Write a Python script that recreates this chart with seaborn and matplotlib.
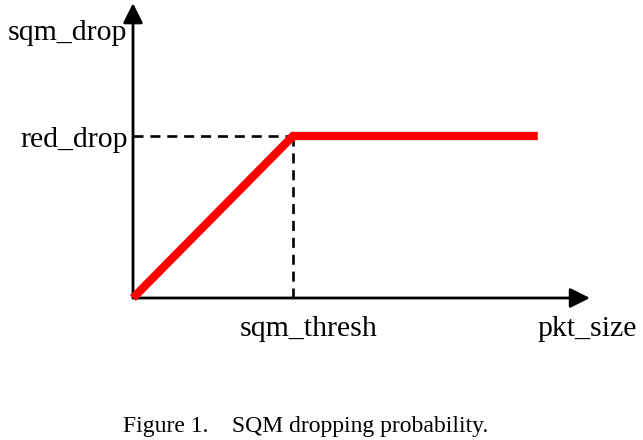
import matplotlib
matplotlib.use("Agg")
import matplotlib.pyplot as plt
from matplotlib.patches import FancyArrowPatch
import seaborn as sns
import pandas as pd

# ---- data ----
pkt_size = [0.0, 1.0, 2.53]          # x positions (origin, sqm_thresh, end)
sqm_drop = [0.0, 1.0, 1.0]           # drop probability
sqm_thresh = 1.0
red_drop = 1.0
x_axis_end = 2.856
y_axis_end = 1.82
x_labels = ["sqm_thresh", "pkt_size"]
y_labels = ["sqm_drop", "red_drop"]
caption = "Figure 1.    SQM dropping probability."

sns.set_style("white")
plt.rcParams["font.family"] = ["Liberation Serif", "DejaVu Serif"]
plt.rcParams["text.color"] = "black"

W, H = 643, 440
fig = plt.figure(figsize=(W / 100, H / 100), dpi=100)
ax = fig.add_axes([0, 0, 1, 1])
ox, oy = 133, 298
sx, sy = 160.0, 162.0
ax.set_xlim(-ox / sx, (W - ox) / sx)
ax.set_ylim(-(H - oy) / sy, oy / sy)
ax.axis("off")

df = pd.DataFrame({"pkt_size": pkt_size, "sqm_drop": sqm_drop})

# dashed guides
ax.plot([0, sqm_thresh], [red_drop, red_drop], color="black", lw=1.9,
        dashes=(3.8, 2.6), dash_capstyle="butt")
ax.plot([sqm_thresh, sqm_thresh], [red_drop, 0], color="black", lw=1.9,
        dashes=(3.8, 2.6), dash_capstyle="butt")

# axes arrows
for (x0, y0, x1, y1) in [(0, 0, x_axis_end, 0), (0, 0, 0, y_axis_end)]:
    arr = FancyArrowPatch((x0, y0), (x1, y1),
                          arrowstyle="-|>,head_length=1.0,head_width=0.5",
                          mutation_scale=12, lw=2.0, color="black",
                          shrinkA=0, shrinkB=0, zorder=3)
    ax.add_patch(arr)

# red curve
sns.lineplot(data=df, x="pkt_size", y="sqm_drop", ax=ax, color="#ff0000",
             lw=6, sort=False, estimator=None, zorder=4)
ax.lines[-1].set_solid_capstyle("butt")
ax.lines[-1].set_solid_joinstyle("miter")
ax.axis("off")

fs = 21.5
def ftext(px, py, s, **kw):
    fig.text(px / W, 1 - py / H, s, fontsize=kw.pop("fontsize", fs),
             va="baseline", color="black", **kw)

ftext(127, 40, y_labels[0], ha="right")
ftext(128, 147, y_labels[1], ha="right")
ftext(240, 336, x_labels[0], ha="left")
ftext(537, 336, x_labels[1], ha="left")
ftext(123, 432, caption, ha="left", fontsize=17)

fig.savefig("out.png", dpi=100)
